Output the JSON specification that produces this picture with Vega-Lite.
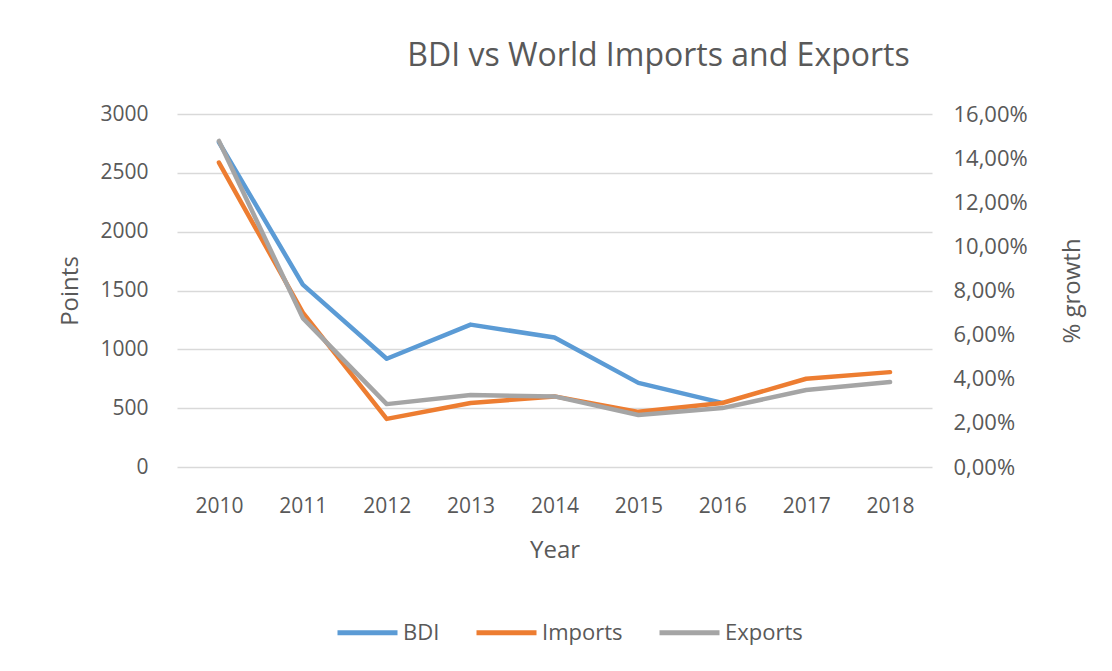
{
  "$schema": "https://vega.github.io/schema/vega-lite/v6.json",
  "width": 755,
  "height": 353,
  "autosize": "none",
  "padding": {"left": 177, "top": 114, "right": 180, "bottom": 204},
  "background": "white",
  "title": {
    "text": "BDI vs World Imports and Exports",
    "fontSize": 32,
    "font": "Open Sans",
    "fontWeight": "normal",
    "color": "#595959",
    "anchor": "middle",
    "dx": 104,
    "offset": 30
  },
  "config": {
    "font": "Open Sans",
    "view": {"stroke": null},
    "axis": {
      "labelFont": "Open Sans",
      "titleFont": "Open Sans",
      "labelColor": "#595959",
      "titleColor": "#595959",
      "labelFontSize": 21,
      "titleFontSize": 24,
      "titleFontWeight": "normal",
      "domain": false,
      "ticks": false
    },
    "legend": {
      "labelFont": "Open Sans",
      "labelFontSize": 22,
      "labelColor": "#595959"
    }
  },
  "data": {
    "values": [
      {"year": "2010", "series": "BDI", "value": 2760},
      {"year": "2011", "series": "BDI", "value": 1550},
      {"year": "2012", "series": "BDI", "value": 920},
      {"year": "2013", "series": "BDI", "value": 1210},
      {"year": "2014", "series": "BDI", "value": 1100},
      {"year": "2015", "series": "BDI", "value": 715},
      {"year": "2016", "series": "BDI", "value": 545},
      {"year": "2010", "series": "Imports", "value": 13.8},
      {"year": "2011", "series": "Imports", "value": 7.0},
      {"year": "2012", "series": "Imports", "value": 2.18},
      {"year": "2013", "series": "Imports", "value": 2.9},
      {"year": "2014", "series": "Imports", "value": 3.2},
      {"year": "2015", "series": "Imports", "value": 2.5},
      {"year": "2016", "series": "Imports", "value": 2.9},
      {"year": "2017", "series": "Imports", "value": 4.0},
      {"year": "2018", "series": "Imports", "value": 4.3},
      {"year": "2010", "series": "Exports", "value": 14.78},
      {"year": "2011", "series": "Exports", "value": 6.75},
      {"year": "2012", "series": "Exports", "value": 2.85},
      {"year": "2013", "series": "Exports", "value": 3.26},
      {"year": "2014", "series": "Exports", "value": 3.2},
      {"year": "2015", "series": "Exports", "value": 2.36},
      {"year": "2016", "series": "Exports", "value": 2.67},
      {"year": "2017", "series": "Exports", "value": 3.49},
      {"year": "2018", "series": "Exports", "value": 3.85}
    ]
  },
  "encoding": {
    "x": {
      "field": "year",
      "type": "ordinal",
      "scale": {"type": "point", "padding": 0.5},
      "axis": {"title": "Year", "labelAngle": 0, "labelPadding": 28, "titlePadding": 22, "grid": false}
    },
    "color": {
      "field": "series",
      "type": "nominal",
      "scale": {"domain": ["BDI", "Imports", "Exports"], "range": ["#5B9BD5", "#ED7D31", "#A5A5A5"]},
      "legend": {
        "title": null,
        "orient": "none",
        "legendX": 158,
        "legendY": 486,
        "direction": "horizontal",
        "symbolType": "stroke",
        "symbolSize": 3600,
        "symbolStrokeWidth": 5,
        "columnPadding": 26,
        "labelOffset": 3
      }
    }
  },
  "layer": [
    {
      "transform": [{"filter": "datum.series === 'BDI'"}],
      "mark": {"type": "line", "strokeWidth": 4.5, "strokeCap": "round", "strokeJoin": "round"},
      "encoding": {
        "y": {
          "field": "value",
          "type": "quantitative",
          "scale": {"domain": [0, 3000]},
          "axis": {
            "title": "Points",
            "format": "d",
            "values": [0, 500, 1000, 1500, 2000, 2500, 3000],
            "labelPadding": 29,
            "titlePadding": 17,
            "grid": true,
            "gridColor": "#D9D9D9",
            "gridWidth": 1.5
          }
        }
      }
    },
    {
      "transform": [{"filter": "datum.series !== 'BDI'"}],
      "mark": {"type": "line", "strokeWidth": 4.5, "strokeCap": "round", "strokeJoin": "round"},
      "encoding": {
        "y": {
          "field": "value",
          "type": "quantitative",
          "scale": {"domain": [0, 16]},
          "axis": {
            "orient": "right",
            "title": "% growth",
            "titleAngle": -90,
            "values": [0, 2, 4, 6, 8, 10, 12, 14, 16],
            "labelExpr": "replace(format(datum.value, '.2f'), '.', ',') + '%'",
            "labelFontSize": 22,
            "labelPadding": 21,
            "titlePadding": 57,
            "grid": false
          }
        }
      }
    }
  ],
  "resolve": {"scale": {"y": "independent"}}
}
